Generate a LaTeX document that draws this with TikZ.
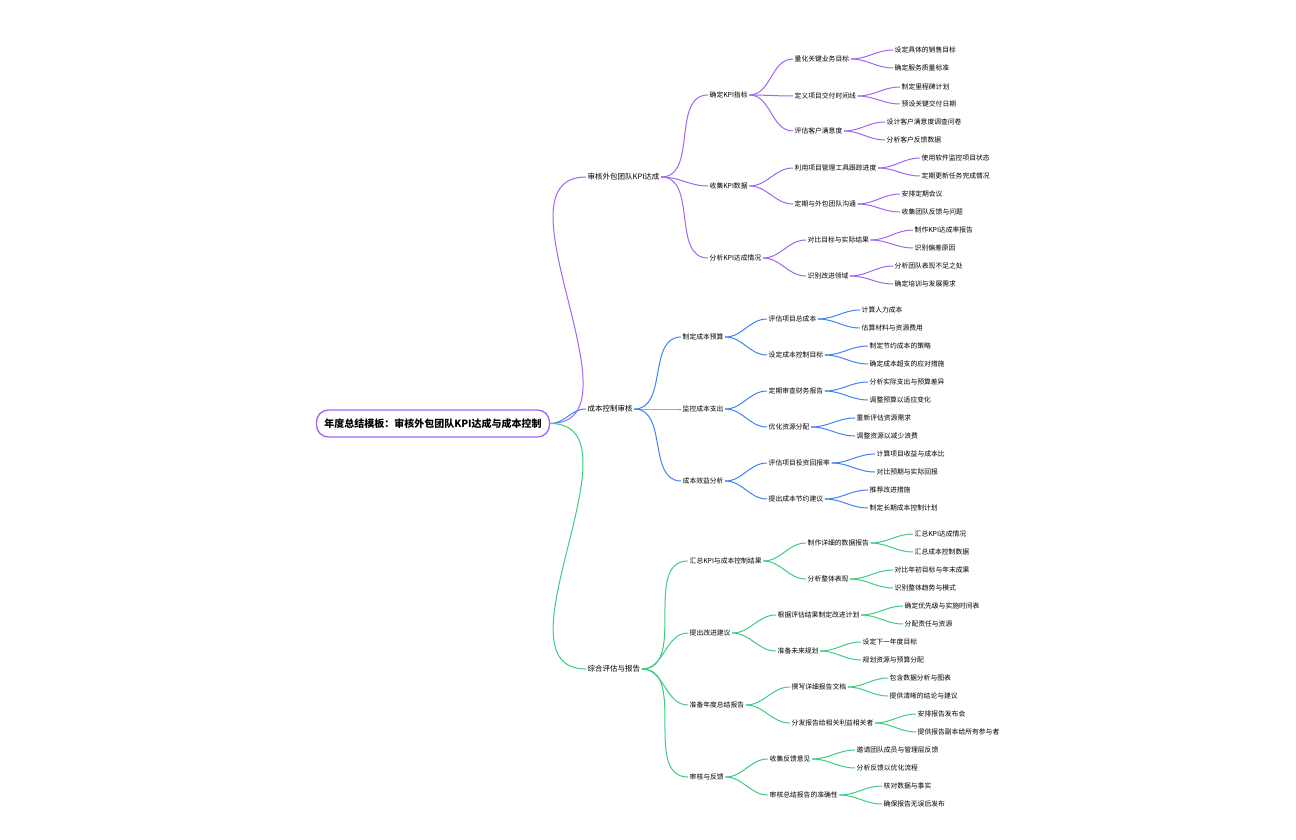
\documentclass[tikz,border=0pt]{standalone}
\usepackage{fontspec}
\setmainfont{Noto Sans CJK SC}
\usetikzlibrary{positioning}
\definecolor{cpurple}{HTML}{A066F2}
\definecolor{cblue}{HTML}{3F82F4}
\definecolor{cgreen}{HTML}{3CCB80}
\tikzset{
    root/.style={draw=cpurple, line width=1.3pt, rounded corners=12pt, fill=white,
        font=\fontsize{10}{12}\selectfont\bfseries, minimum width=233pt, minimum height=27pt, inner sep=0pt},
    one/.style={anchor=west, inner sep=1.5pt, font=\fontsize{7.5}{9}\selectfont},
    leaf/.style={anchor=west, inner sep=1.5pt, font=\fontsize{6.8}{8}\selectfont},
    link/.style={line width=1pt, out=0, in=180}
}
\begin{document}
\begin{tikzpicture}[x=1pt, y=-1pt]
    \useasboundingbox (0,0) rectangle (1296,840);
    \node [root] (Root) at (433,423.5) {年度总结模板：审核外包团队KPI达成与成本控制};

    % first level
    \node [one] (A) at (586,177) {审核外包团队KPI达成};
    \node [one] (B) at (586,409) {成本控制审核};
    \node [one] (C) at (586,669) {综合评估与报告};

    % second level
    \node [leaf] (A1) at (708,95) {确定KPI指标};
    \node [leaf] (A2) at (708,186) {收集KPI数据};
    \node [leaf] (A3) at (708,258) {分析KPI达成情况};
    \node [leaf] (B1) at (681,337) {制定成本预算};
    \node [leaf] (B2) at (681,409) {监控成本支出};
    \node [leaf] (B3) at (681,481) {成本效益分析};
    \node [leaf] (C1) at (688,561) {汇总KPI与成本控制结果};
    \node [leaf] (C2) at (688,633) {提出改进建议};
    \node [leaf] (C3) at (688,705) {准备年度总结报告};
    \node [leaf] (C4) at (688,777) {审核与反馈};

    % third level
    \foreach \n/\x/\y/\t in {
        A11/793/59/量化关键业务目标, A12/793/96/定义项目交付时间线, A13/793/131/评估客户满意度,
        A21/793/168/利用项目管理工具跟踪进度, A22/793/204/定期与外包团队沟通,
        A31/806/240/对比目标与实际结果, A32/806/276/识别改进领域,
        B11/767/319/评估项目总成本, B12/767/355/设定成本控制目标,
        B21/767/391/定期审查财务报告, B22/767/427/优化资源分配,
        B31/767/463/评估项目投资回报率, B32/767/499/提出成本节约建议,
        C11/806/543/制作详细的数据报告, C12/806/579/分析整体表现,
        C21/776/615/根据评估结果制定改进计划, C22/776/651/准备未来规划,
        C31/790/687/撰写详细报告文档, C32/790/723/分发报告给相关利益相关者,
        C41/768/759/收集反馈意见, C42/768/795/审核总结报告的准确性}
        \node [leaf] (\n) at (\x,\y) {\t};

    % fourth level
    \foreach \n/\x/\y/\t in {
        A111/893/50/设定具体的销售目标, A112/893/68/确定服务质量标准,
        A121/900/87/制定里程碑计划, A122/900/104/预设关键交付日期,
        A131/885/122/设计客户满意度调查问卷, A132/885/140/分析客户反馈数据,
        A211/920/158/使用软件监控项目状态, A212/920/176/定期更新任务完成情况,
        A221/900/194/安排定期会议, A222/900/212/收集团队反馈与问题,
        A311/913/230/制作KPI达成率报告, A312/913/248/识别偏差原因,
        A321/893/266/分析团队表现不足之处, A322/893/284/确定培训与发展需求,
        B111/860/310/计算人力成本, B112/860/328/估算材料与资源费用,
        B121/868/346/制定节约成本的策略, B122/868/364/确定成本超支的应对措施,
        B211/868/382/分析实际支出与预算差异, B212/868/400/调整预算以适应变化,
        B221/855/418/重新评估资源需求, B222/855/436/调整资源以减少浪费,
        B311/875/454/计算项目收益与成本比, B312/875/472/对比预期与实际回报,
        B321/868/490/推荐改进措施, B322/868/508/制定长期成本控制计划,
        C111/913/534/汇总KPI达成情况, C112/913/552/汇总成本控制数据,
        C121/893/570/对比年初目标与年末成果, C122/893/588/识别整体趋势与模式,
        C211/903/606/确定优先级与实施时间表, C212/903/624/分配责任与资源,
        C221/861/642/设定下一年度目标, C222/861/660/规划资源与预算分配,
        C311/888/678/包含数据分析与图表, C312/888/696/提供清晰的结论与建议,
        C321/916/714/安排报告发布会, C322/916/732/提供报告副本给所有参与者,
        C411/855/750/邀请团队成员与管理层反馈, C412/855/768/分析反馈以优化流程,
        C421/882/786/核对数据与事实, C422/882/804/确保报告无误后发布}
        \node [leaf] (\n) at (\x,\y) {\t};

    % connectors
    \draw [link, cpurple] (Root.east) to (A.west);
    \draw [link, cblue] (Root.east) to (B.west);
    \draw [link, cgreen] (Root.east) to (C.west);
    \foreach \p/\c in {A/A1, A/A2, A/A3, A1/A11, A1/A12, A1/A13, A2/A21, A2/A22, A3/A31, A3/A32,
        A11/A111, A11/A112, A12/A121, A12/A122, A13/A131, A13/A132, A21/A211, A21/A212,
        A22/A221, A22/A222, A31/A311, A31/A312, A32/A321, A32/A322}
        \draw [link, cpurple] (\p.east) to (\c.west);
    \foreach \p/\c in {B/B1, B/B2, B/B3, B1/B11, B1/B12, B2/B21, B2/B22, B3/B31, B3/B32,
        B11/B111, B11/B112, B12/B121, B12/B122, B21/B211, B21/B212,
        B22/B221, B22/B222, B31/B311, B31/B312, B32/B321, B32/B322}
        \draw [link, cblue] (\p.east) to (\c.west);
    \foreach \p/\c in {C/C1, C/C2, C/C3, C/C4, C1/C11, C1/C12, C2/C21, C2/C22, C3/C31, C3/C32,
        C4/C41, C4/C42, C11/C111, C11/C112, C12/C121, C12/C122, C21/C211, C21/C212,
        C22/C221, C22/C222, C31/C311, C31/C312, C32/C321, C32/C322, C41/C411, C41/C412,
        C42/C421, C42/C422}
        \draw [link, cgreen] (\p.east) to (\c.west);
\end{tikzpicture}
\end{document}
